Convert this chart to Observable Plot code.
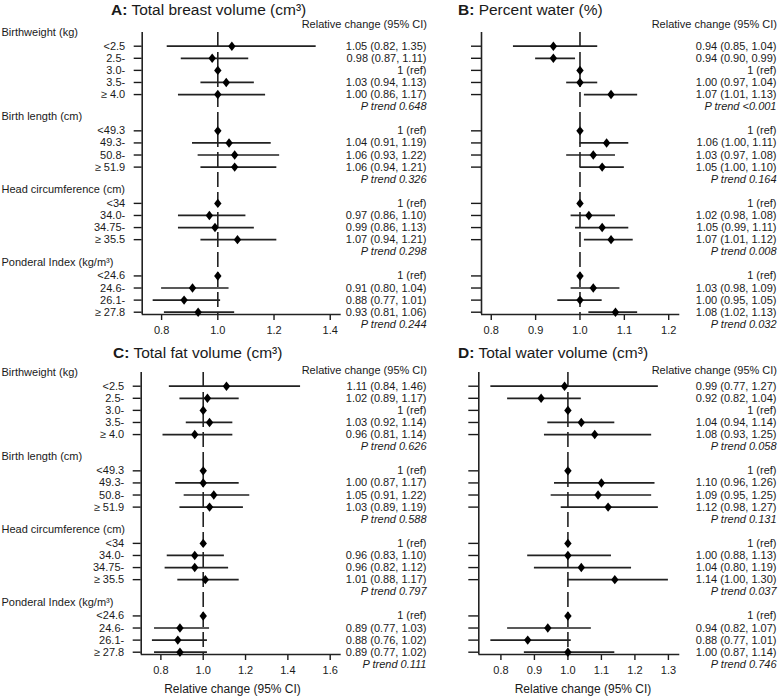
<!DOCTYPE html>
<html><head><meta charset="utf-8">
<script src="https://cdn.jsdelivr.net/npm/d3@7"></script>
<script src="https://cdn.jsdelivr.net/npm/@observablehq/plot@0.6"></script>
<style>
html,body{margin:0;padding:0;background:#fff;}
#wrap{position:relative;width:778px;height:697px;overflow:hidden;font-family:"Liberation Sans",Arial,sans-serif;color:#1a1a1a;background:#fff;}
.title{position:absolute;font-size:15.5px;line-height:1;white-space:nowrap;}
.hdr{position:absolute;font-size:11px;line-height:1;white-space:nowrap;text-align:right;}
.xlab{position:absolute;font-size:12px;line-height:1;white-space:nowrap;transform:translateX(-50%);}
.panel{position:absolute;}
</style></head>
<body><div id="wrap"></div>
<script>
// ---------- data ----------
const groupNames = ["Birthweight (kg)", "Birth length (cm)", "Head circumference (cm)", "Ponderal Index (kg/m³)"];
const groupSizes = [5, 4, 4, 4];
const levelLabels = ["<2.5", "2.5-", "3.0-", "3.5-", "≥ 4.0",
  "<49.3", "49.3-", "50.8-", "≥ 51.9",
  "<34", "34.0-", "34.75-", "≥ 35.5",
  "<24.6", "24.6-", "26.1-", "≥ 27.8"];
const panelLetters = ["A", "B", "C", "D"];
const panelTitles = ["Total breast volume (cm³)", "Percent water (%)", "Total fat volume (cm³)", "Total water volume (cm³)"];
const headerText = "Relative change (95% CI)";
const axisTitle = "Relative change (95% CI)";

const estA = [1.05, 0.98, 1, 1.03, 1.00, 1, 1.04, 1.06, 1.06, 1, 0.97, 0.99, 1.07, 1, 0.91, 0.88, 0.93];
const lowA = [0.82, 0.87, null, 0.94, 0.86, null, 0.91, 0.93, 0.94, null, 0.86, 0.86, 0.94, null, 0.80, 0.77, 0.81];
const highA = [1.35, 1.11, null, 1.13, 1.17, null, 1.19, 1.22, 1.21, null, 1.10, 1.13, 1.21, null, 1.04, 1.01, 1.06];
const pTrendA = ["0.648", "0.326", "0.298", "0.244"];
const ticksA = [0.8, 1.0, 1.2, 1.4];

const estB = [0.94, 0.94, 1, 1.00, 1.07, 1, 1.06, 1.03, 1.05, 1, 1.02, 1.05, 1.07, 1, 1.03, 1.00, 1.08];
const lowB = [0.85, 0.90, null, 0.97, 1.01, null, 1.00, 0.97, 1.00, null, 0.98, 0.99, 1.01, null, 0.98, 0.95, 1.02];
const highB = [1.04, 0.99, null, 1.04, 1.13, null, 1.11, 1.08, 1.10, null, 1.08, 1.11, 1.12, null, 1.09, 1.05, 1.13];
const pTrendB = ["<0.001", "0.164", "0.008", "0.032"];
const ticksB = [0.8, 0.9, 1.0, 1.1, 1.2];

const estC = [1.11, 1.02, 1, 1.03, 0.96, 1, 1.00, 1.05, 1.03, 1, 0.96, 0.96, 1.01, 1, 0.89, 0.88, 0.89];
const lowC = [0.84, 0.89, null, 0.92, 0.81, null, 0.87, 0.91, 0.89, null, 0.83, 0.82, 0.88, null, 0.77, 0.76, 0.77];
const highC = [1.46, 1.17, null, 1.14, 1.14, null, 1.17, 1.22, 1.19, null, 1.10, 1.12, 1.17, null, 1.03, 1.02, 1.02];
const pTrendC = ["0.626", "0.588", "0.797", "0.111"];
const ticksC = [0.8, 1.0, 1.2, 1.4, 1.6];

const estD = [0.99, 0.92, 1, 1.04, 1.08, 1, 1.10, 1.09, 1.12, 1, 1.00, 1.04, 1.14, 1, 0.94, 0.88, 1.00];
const lowD = [0.77, 0.82, null, 0.94, 0.93, null, 0.96, 0.95, 0.98, null, 0.88, 0.90, 1.00, null, 0.82, 0.77, 0.87];
const highD = [1.27, 1.04, null, 1.14, 1.25, null, 1.26, 1.25, 1.27, null, 1.13, 1.19, 1.30, null, 1.07, 1.01, 1.14];
const pTrendD = ["0.058", "0.131", "0.037", "0.746"];
const printedTextD = {11: "1.04 (0.80, 1.19)"}; // as printed in the source table
const ticksD = [0.8, 0.9, 1.0, 1.1, 1.2, 1.3];

// ---------- layout ----------
const FONT = "'Liberation Sans', Arial, sans-serif";
const Y_DOMAIN = [-1.133, 22.19];
const diamond = {
  draw(ctx) { const w = 3.7, h = 4.7; ctx.moveTo(0, -h); ctx.lineTo(w, 0); ctx.lineTo(0, h); ctx.lineTo(-w, 0); ctx.closePath(); }
};
const fmt = v => v.toFixed(2);

function panel(cfg) {
  const rows = [], pRows = [], groupRows = [];
  let k = 0, start = 0;
  groupNames.forEach((g, gi) => {
    groupRows.push({row: start - 1.15, name: g});
    for (let j = 0; j < groupSizes[gi]; j++, k++) {
      const est = cfg.est[k], lo = cfg.low[k], hi = cfg.high[k];
      const txt = (cfg.printed && cfg.printed[k]) ||
        (lo == null ? "1 (ref)" : `${fmt(est)} (${fmt(lo)}, ${fmt(hi)})`);
      rows.push({row: start + j, label: levelLabels[k], est, lo, hi, text: txt});
    }
    pRows.push({row: start + groupSizes[gi], text: "P trend " + cfg.pTrend[gi]});
    start += groupSizes[gi] + 2;
  });
  const labelByRow = new Map(rows.map(d => [d.row, d.label]));
  const marks = [
    Plot.axisY({ticks: rows.map(d => d.row), tickSize: cfg.tickLen, tickPadding: 9,
      tickFormat: cfg.showLabels ? (i => labelByRow.get(i)) : (() => ""), strokeWidth: 1.4, label: null}),
    Plot.axisX({ticks: cfg.xTicks, tickSize: 6, tickPadding: 5.5, tickFormat: d3.format(".1f"), strokeWidth: 1.4, label: null}),
    Plot.ruleX([cfg.xDomain[0]], {strokeWidth: 1.6, stroke: "#222"}),
    Plot.ruleY([Y_DOMAIN[1]], {strokeWidth: 1.6, stroke: "#222"}),
    Plot.ruleX([1], {strokeWidth: 1.6, stroke: "#222", strokeDasharray: "15,5"}),
    Plot.ruleY(rows.filter(d => d.lo != null), {y: "row", x1: "lo", x2: "hi", strokeWidth: 1.7, stroke: "#222"}),
    Plot.dot(rows, {x: "est", y: "row", symbol: diamond, r: 4, fill: "#000", stroke: "none"}),
    Plot.text(rows, {y: "row", text: "text", frameAnchor: "right", textAnchor: "end", dx: cfg.textDx}),
    Plot.text(pRows, {y: "row", text: "text", frameAnchor: "right", textAnchor: "end", dx: cfg.textDx, fontStyle: "italic"})
  ];
  if (cfg.showLabels) {
    marks.push(Plot.text(groupRows, {y: "row", text: "name", frameAnchor: "left", textAnchor: "start", dx: -cfg.ml + 1}));
  }
  const svg = Plot.plot({
    width: cfg.width, height: 345,
    marginTop: 32, marginBottom: 31, marginLeft: cfg.ml, marginRight: cfg.mr,
    style: {fontFamily: FONT, fontSize: "11px", color: "#1a1a1a", background: "transparent", overflow: "visible"},
    x: {domain: cfg.xDomain, label: null},
    y: {domain: Y_DOMAIN, reverse: true, label: null},
    marks
  });
  svg.classList.add("panel");
  svg.style.left = cfg.left + "px";
  svg.style.top = cfg.top + "px";
  return svg;
}

const wrap = document.getElementById("wrap");
const cfgs = [
  {est: estA, low: lowA, high: highA, pTrend: pTrendA, xTicks: ticksA, xDomain: [0.731, 1.439],
   left: 0, top: 0, width: 430, ml: 141.7, mr: 89.3, textDx: 85.3, tickLen: 8, showLabels: true},
  {est: estB, low: lowB, high: highB, pTrend: pTrendB, xTicks: ticksB, xDomain: [0.778, 1.225],
   left: 430, top: 0, width: 348, ml: 51, mr: 98.7, textDx: 96.7, tickLen: 10, showLabels: false},
  {est: estC, low: lowC, high: highC, pTrend: pTrendC, xTicks: ticksC, xDomain: [0.707, 1.652],
   left: 0, top: 340, width: 430, ml: 140.7, mr: 89.3, textDx: 85.3, tickLen: 8, showLabels: true},
  {est: estD, low: lowD, high: highD, pTrend: pTrendD, xTicks: ticksD, xDomain: [0.734, 1.334], printed: printedTextD,
   left: 430, top: 340, width: 348, ml: 48.3, mr: 98.7, textDx: 96.7, tickLen: 10, showLabels: false}
];
cfgs.forEach(c => wrap.appendChild(panel(c)));

// titles, headers, axis titles
const titlePos = [[111, 2], [458, 2], [113, 345], [458, 345]];
const hdrPos = [[351, 18.5], [1, 18.5], [351, 364.5], [1, 364.5]];
panelLetters.forEach((L, i) => {
  const t = document.createElement("div");
  t.className = "title";
  t.style.left = titlePos[i][0] + "px"; t.style.top = titlePos[i][1] + "px";
  const b = document.createElement("b"); b.textContent = L + ":";
  t.appendChild(b); t.appendChild(document.createTextNode(" " + panelTitles[i]));
  wrap.appendChild(t);
  const h = document.createElement("div");
  h.className = "hdr";
  h.style.right = hdrPos[i][0] + "px"; h.style.top = hdrPos[i][1] + "px";
  h.textContent = headerText;
  wrap.appendChild(h);
});
[[232.5, 683], [583, 683]].forEach(([x, y]) => {
  const a = document.createElement("div");
  a.className = "xlab";
  a.style.left = x + "px"; a.style.top = y + "px";
  a.textContent = axisTitle;
  wrap.appendChild(a);
});
</script>
</body></html>
